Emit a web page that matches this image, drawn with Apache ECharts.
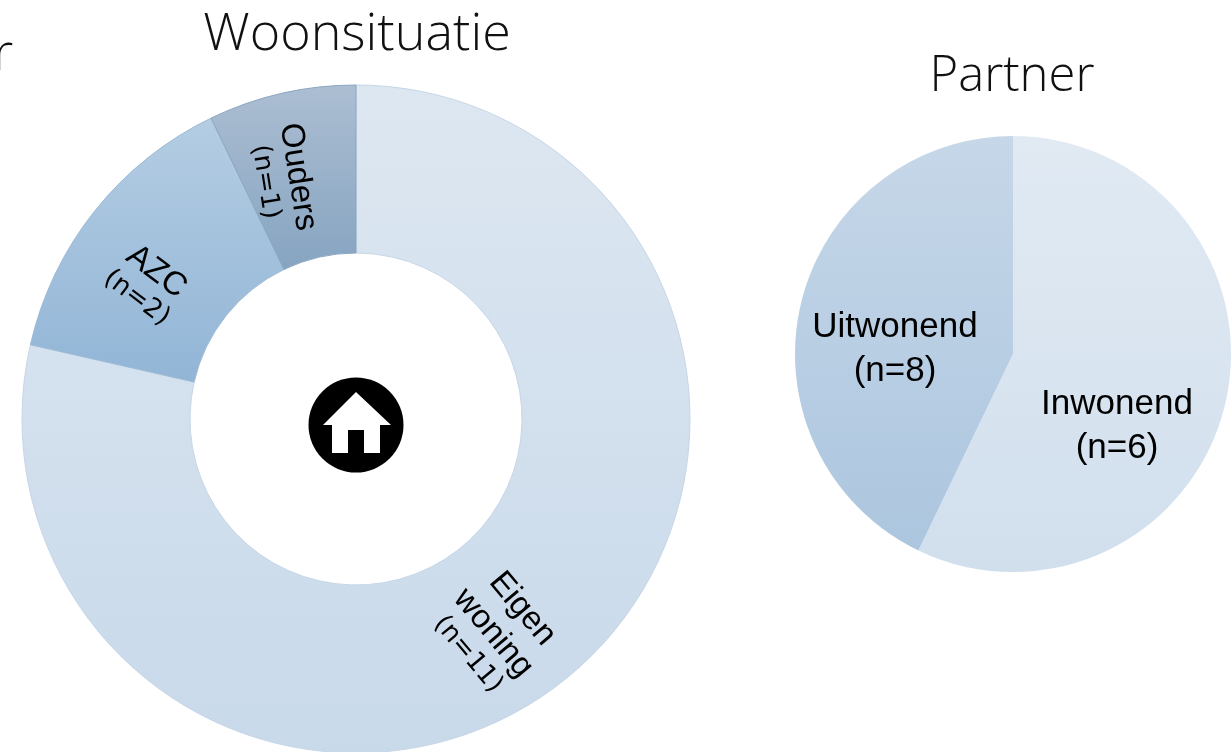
<!DOCTYPE html>
<html>
<head>
<meta charset="utf-8">
<style>
  html, body { margin: 0; padding: 0; background: #fff; }
  #chart { width: 1232px; height: 752px; }
</style>
<script src="https://cdn.jsdelivr.net/npm/echarts@6/dist/echarts.min.js"></script>
</head>
<body>
<div id="chart"></div>
<script>
// woonsituatie
const woonNames = ['Eigen\nwoning', 'AZC', 'Ouders']
const woonCounts = ['(n=11)', '(n=2)', '(n=1)']
const woonValues = [11, 2, 1]

// partner: slice sizes as drawn, the big slice carries the n=6 label in the source
const partnerNames = ['Inwonend', 'Uitwonend']
const partnerCounts = ['(n=6)', '(n=8)']
const partnerValues = [8, 6]

const chart = echarts.init(document.getElementById('chart'))

const grad = (top, bottom) => new echarts.graphic.LinearGradient(0, 0, 0, 1, [
  { offset: 0, color: top },
  { offset: 1, color: bottom }
])

const woonStyle = [
  { color: grad('#dde7f1', '#c8d9ea'), border: '#c6d6e7' },
  { color: grad('#b4cde3', '#92b5d6'), border: '#9dbbd6' },
  { color: grad('#acbed2', '#86a4c1'), border: '#8aa7c2' }
]
const woonLabel = [
  { rotate: -50, x: 497, y: 630 },
  { rotate: -37, x: 148, y: 283 },
  { rotate: -81, x: 284, y: 179 }
]
const partnerStyle = [
  { color: grad('#e1eaf3', '#d1dfed') },
  { color: grad('#c6d7e8', '#acc6df') }
]
const partnerLabel = [
  { x: 1117, y: 426 },
  { x: 895, y: 349 }
]

chart.setOption({
  animation: false,
  backgroundColor: '#fff',
  title: [
    {
      text: 'Woonsituatie', left: 352, top: 4, textAlign: 'center',
      textStyle: { fontFamily: 'Open Sans', fontWeight: 300, fontSize: 52, color: '#111' }
    },
    {
      text: 'Partner', left: 1007, top: 48, textAlign: 'center',
      textStyle: { fontFamily: 'Open Sans', fontWeight: 300, fontSize: 49, color: '#111' }
    },
    {
      text: 'r', left: -12, top: 24,
      textStyle: { fontFamily: 'Open Sans', fontWeight: 300, fontSize: 52, color: '#111' }
    }
  ],
  graphic: [
    { type: 'circle', shape: { cx: 356, cy: 425, r: 47.5 }, style: { fill: '#000' } },
    {
      type: 'polygon',
      shape: {
        points: [[356, 392], [391, 425], [380, 425], [380, 453], [364, 453], [364, 430], [348, 430], [348, 453], [332, 453], [332, 425], [323, 425]]
      },
      style: { fill: '#fff' }
    }
  ],
  series: [
    {
      type: 'pie',
      center: [356, 419],
      radius: [166, 334],
      startAngle: 90,
      clockwise: true,
      avoidLabelOverlap: false,
      labelLine: { show: false },
      emphasis: { disabled: true },
      data: woonValues.map((v, i) => ({
        value: v,
        name: woonNames[i],
        itemStyle: { color: woonStyle[i].color, borderColor: woonStyle[i].border, borderWidth: 1 },
        label: {
          show: true,
          position: 'inside',
          rotate: woonLabel[i].rotate,
          formatter: () => woonNames[i].split('\n').map(s => `{a|${s}}`).join('\n') + `\n{b|${woonCounts[i]}}`,
          rich: {
            a: { fontFamily: 'Liberation Sans', fontSize: 33, lineHeight: 38, color: '#000' },
            b: { fontFamily: 'DejaVu Sans', fontSize: 26, lineHeight: 28, color: '#000' }
          }
        }
      })),
      labelLayout: (params) => ({
        x: woonLabel[params.dataIndex].x,
        y: woonLabel[params.dataIndex].y,
        align: 'center',
        verticalAlign: 'middle'
      })
    },
    {
      type: 'pie',
      center: [1013, 354],
      radius: [0, 218],
      startAngle: 90,
      clockwise: true,
      avoidLabelOverlap: false,
      labelLine: { show: false },
      emphasis: { disabled: true },
      data: partnerValues.map((v, i) => ({
        value: v,
        name: partnerNames[i],
        itemStyle: { color: partnerStyle[i].color, borderWidth: 0 },
        label: {
          show: true,
          position: 'inside',
          formatter: () => `${partnerNames[i]}\n${partnerCounts[i]}`,
          fontFamily: 'Liberation Sans',
          fontSize: 35,
          lineHeight: 44,
          color: '#000',
          align: 'center'
        }
      })),
      labelLayout: (params) => ({
        x: partnerLabel[params.dataIndex].x,
        y: partnerLabel[params.dataIndex].y,
        align: 'center',
        verticalAlign: 'middle'
      })
    }
  ]
})
</script>
</body>
</html>
